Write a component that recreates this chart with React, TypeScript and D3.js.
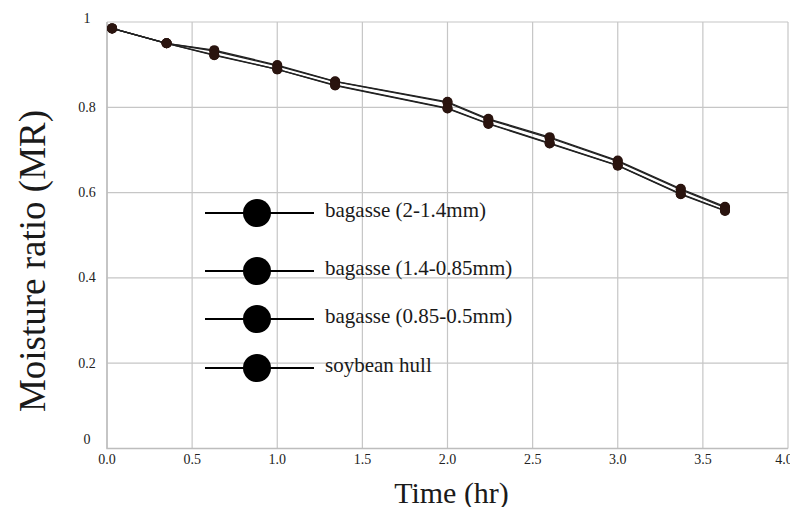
import React from "react";
import * as d3 from "d3";

const times = [0.03, 0.35, 0.63, 1.0, 1.34, 2.0, 2.24, 2.6, 3.0, 3.37, 3.63];

const bagasseLarge = [0.985, 0.95, 0.934, 0.899, 0.861, 0.813, 0.773, 0.73, 0.675, 0.609, 0.567];
const bagasseMedium = [0.985, 0.95, 0.932, 0.897, 0.86, 0.811, 0.771, 0.728, 0.673, 0.607, 0.565];
const bagasseSmall = [0.985, 0.95, 0.922, 0.889, 0.852, 0.798, 0.762, 0.716, 0.664, 0.597, 0.558];
const soybeanHull = [0.985, 0.95, 0.923, 0.889, 0.851, 0.797, 0.761, 0.715, 0.663, 0.596, 0.557];

const seriesNames = [
  "bagasse (2-1.4mm)",
  "bagasse (1.4-0.85mm)",
  "bagasse (0.85-0.5mm)",
  "soybean hull",
];
const seriesValues = [bagasseLarge, bagasseMedium, bagasseSmall, soybeanHull];

const xTicks = [0, 0.5, 1.0, 1.5, 2.0, 2.5, 3.0, 3.5, 4.0];
const yTicks = [0, 0.2, 0.4, 0.6, 0.8, 1];
const yTickLabels = ["0", "0.2", "0.4", "0.6", "0.8", "1"];

const width = 798;
const height = 515;
const margin = { top: 22, right: 10, bottom: 67, left: 107 };
const font = "'Liberation Serif', 'Times New Roman', serif";

const App = () => {
  const x = d3
    .scaleLinear()
    .domain([0, 4])
    .range([margin.left, width - margin.right]);

  const y = d3
    .scaleLinear()
    .domain([0, 1])
    .range([height - margin.bottom + 0.5, margin.top]);

  const line = d3
    .line<number>()
    .x((d, i) => x(times[i]))
    .y((d) => y(d));

  const legendRows = [213, 271, 319, 368];

  return (
    <svg
      width={width}
      height={height}
      style={{ display: "block", margin: "-8px", background: "#fff" }}
    >
      {/* grid */}
      {xTicks.map((t) => (
        <line key={"v" + t} x1={x(t)} x2={x(t)} y1={y(1)} y2={y(0)} stroke="#c6c6c6" strokeWidth={1.2} />
      ))}
      {yTicks.map((t) => (
        <line key={"h" + t} x1={x(0)} x2={x(4)} y1={y(t)} y2={y(t)} stroke="#c6c6c6" strokeWidth={1.2} />
      ))}
      <path d={`M${x(0)},${y(1)}V${y(0)}H${x(4)}`} fill="none" stroke="#bdbdbd" strokeWidth={1.5} />

      {/* tick labels */}
      {xTicks.map((t, i) => (
        <text
          key={"xl" + t}
          x={i === xTicks.length - 1 ? x(t) - 4 : x(t)}
          y={y(0) + 11}
          textAnchor="middle"
          dominantBaseline="central"
          style={{ fontFamily: font, fontSize: 14, fill: "#222" }}
        >
          {d3.format(".1f")(t)}
        </text>
      ))}
      {yTicks.map((t, i) => (
        <text
          key={"yl" + t}
          x={87}
          y={t === 0 ? y(t) - 9 : t === 1 ? y(t) - 4 : y(t)}
          textAnchor="middle"
          dominantBaseline="central"
          style={{ fontFamily: font, fontSize: 14, fill: "#222" }}
        >
          {yTickLabels[i]}
        </text>
      ))}

      {/* series */}
      {seriesValues.map((vals, s) => (
        <path key={"l" + s} d={line(vals) || ""} fill="none" stroke="#222" strokeWidth={1.3} />
      ))}
      {seriesValues.map((vals, s) =>
        vals.map((v, i) => (
          <circle key={"c" + s + "-" + i} cx={x(times[i])} cy={y(v)} r={5} fill="#2a140f" />
        ))
      )}

      {/* legend */}
      {seriesNames.map((name, i) => (
        <g key={name} transform={`translate(0, ${legendRows[i]})`}>
          <line x1={205} x2={314} y1={0} y2={0} stroke="#000" strokeWidth={2} />
          <circle cx={257} cy={0} r={14} fill="#000" />
          <text
            x={325}
            y={-3}
            dominantBaseline="central"
            style={{ fontFamily: font, fontSize: 21, fill: "#1a1a1a" }}
          >
            {name}
          </text>
        </g>
      ))}

      {/* axis titles */}
      <text
        x={(x(0) + x(4)) / 2 + 4}
        y={492}
        textAnchor="middle"
        dominantBaseline="central"
        style={{ fontFamily: font, fontSize: 30, fill: "#1a1a1a" }}
      >
        Time (hr)
      </text>
      <text
        transform={`translate(45, 261) rotate(-90)`}
        textAnchor="middle"
        style={{ fontFamily: font, fontSize: 37, fill: "#1a1a1a" }}
      >
        Moisture ratio (MR)
      </text>
    </svg>
  );
};

export default App;
